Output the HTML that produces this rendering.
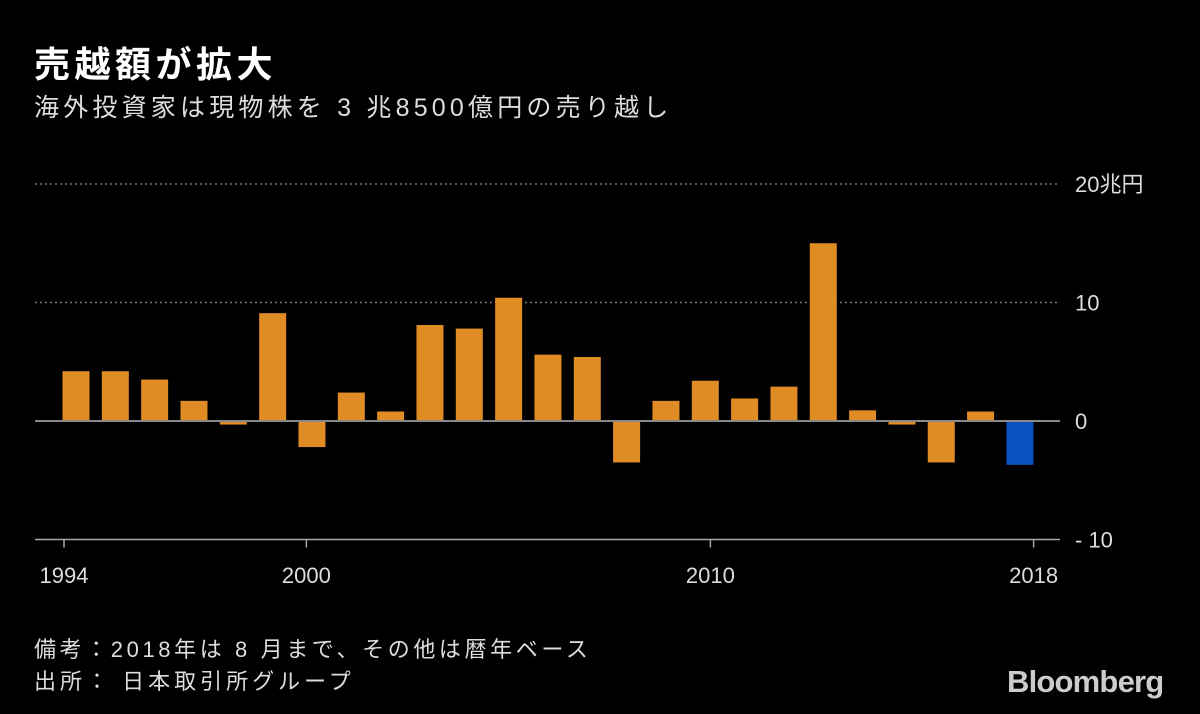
<!DOCTYPE html>
<html><head><meta charset="utf-8"><style>
body{margin:0;background:#000;width:1200px;height:714px;overflow:hidden;font-family:"Liberation Sans","Noto Sans CJK JP",sans-serif;color:#fff}
.t{position:absolute;white-space:nowrap}
</style></head><body>
<div class="t" style="left:34px;top:36px;font-size:36px;font-weight:bold;letter-spacing:4.5px">売越額が拡大</div>
<div class="t" style="left:34px;top:88px;font-size:25px;color:#ddd;letter-spacing:4.2px">海外投資家は現物株を 3 兆8500億円の売り越し</div>
<svg id="c" width="1200" height="714" style="position:absolute;left:0;top:0"></svg>
<div class="t" style="left:34px;top:632px;font-size:22px;color:#ddd;letter-spacing:3.6px">備考：2018年は 8 月まで、その他は暦年ベース</div>
<div class="t" style="left:34px;top:664px;font-size:22px;color:#ddd;letter-spacing:4px">出所：  日本取引所グループ</div>
<div class="t" style="left:1007px;top:664px;font-size:31px;font-weight:bold;letter-spacing:-0.8px;color:#ccc">Bloomberg</div>
<script>
const years=[1994,1995,1996,1997,1998,1999,2000,2001,2002,2003,2004,2005,2006,2007,2008,2009,2010,2011,2012,2013,2014,2015,2016,2017,2018];
const values=[4.2,4.2,3.5,1.7,-0.3,9.1,-2.2,2.4,0.8,8.1,7.8,10.4,5.6,5.4,-3.5,1.7,3.4,1.9,2.9,15.0,0.9,-0.3,-3.5,0.8,-3.7];
const yTicks=[20,10,0,-10];
const yTickLabels=["20兆円","10","0","- 10"];
const xTickYears=[1994,2000,2010,2018];
const svg=document.getElementById('c');const NS='http://www.w3.org/2000/svg';
const y=v=>421-v*11.85;
const bx=i=>76+i*39.33;
const tx=yr=>64+(yr-1994)*40.4;
function mk(t,a){const e=document.createElementNS(NS,t);for(const k in a)e.setAttribute(k,a[k]);svg.appendChild(e);return e;}
yTicks.forEach((v,i)=>{
 let l;
 if(v===0) l=mk('line',{x1:35,x2:1060,y1:y(v),y2:y(v),stroke:'#888','stroke-width':2});
 else if(v===-10) l=mk('line',{x1:35,x2:1060,y1:y(v),y2:y(v),stroke:'#aaa','stroke-width':1.5});
 else l=mk('line',{x1:35,x2:1060,y1:y(v),y2:y(v),stroke:'#777','stroke-width':1.5,'stroke-dasharray':'2,3'});
 
 
 const t=mk('text',{x:1075,y:y(v)+8,fill:'#ddd','font-size':22});
 t.textContent=yTickLabels[i];
 
 
});
years.forEach((yr,i)=>{
 const v=values[i];
 const r=mk('rect',{x:bx(i)-13.5,width:27,y:Math.min(y(v),y(0)),height:Math.abs(y(v)-y(0)),fill:yr===2018?'#0a50c0':'#e08c24'});
 
 
});
mk('line',{x1:35,x2:1060,y1:y(0),y2:y(0),stroke:'#888','stroke-width':2});
xTickYears.forEach(yr=>{
 const tk=mk('line',{x1:tx(yr),x2:tx(yr),y1:y(-10),y2:y(-10)+8,stroke:'#aaa','stroke-width':1.5});
 
 
 const t=mk('text',{x:tx(yr),y:583,fill:'#ddd','font-size':22,'text-anchor':'middle'});
 t.textContent=yr;
 
 
});
</script>
</body></html>
